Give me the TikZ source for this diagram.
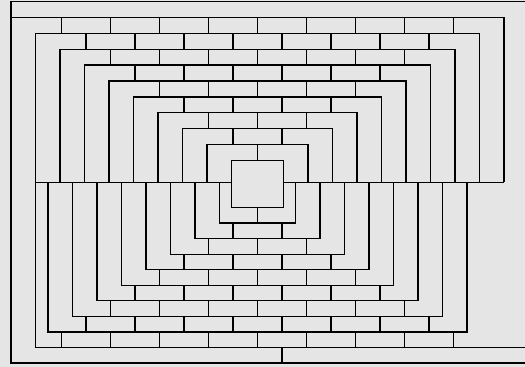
\documentclass[tikz,border=0pt]{standalone}

\begin{document}
\begin{tikzpicture}[
        x=0.02cm,
        y=-0.02cm,
        wall/.style={
            line width=0.7pt,
            line join=miter
        },
        joint/.style={
            line width=0.7pt
        },
        backdrop/.style={
            fill=black!10,
            draw=none
        }
    ]

    % Canvas
    \path[backdrop] (0,0) rectangle (525,367);
    \useasboundingbox (0,0) rectangle (525,367);

    % Outer frame, open towards the right
    \draw[wall] (525,1.5) -- (11,1.5) -- (11,363) -- (525,363);

    % Outermost rings
    \draw[wall] (11,17.4) -- (504,17.4) -- (504,182.5);
    \draw[wall] (525,347.45) -- (35.5,347.45) -- (35.5,33.3) -- (479.5,33.3) -- (479.5,182.5);

    % Upper arches
    \foreach \k in {1,...,7} {
        \pgfmathsetmacro\archl{231.5-24.5*\k}
        \pgfmathsetmacro\archr{283.5+24.5*\k}
        \pgfmathsetmacro\archt{160.5-15.9*\k}
        \draw[wall] (\archl,182.5) -- (\archl,\archt) -- (\archr,\archt) -- (\archr,182.5);
    }

    % Lower cups
    \foreach \k in {1,...,8} {
        \pgfmathsetmacro\cupl{244-24.5*\k}
        \pgfmathsetmacro\cupr{271+24.5*\k}
        \pgfmathsetmacro\cupb{207.5+15.55*\k}
        \draw[wall] (\cupl,182.5) -- (\cupl,\cupb) -- (\cupr,\cupb) -- (\cupr,182.5);
    }

    % Centre square and middle line
    \draw[wall] (231.5,160.5) rectangle (283.5,207.5);
    \draw[wall] (35.5,182.5) -- (231.5,182.5);
    \draw[wall] (283.5,182.5) -- (504,182.5);

    % Brick joints, upper bands
    \foreach \j in {1,...,9} {
        \pgfmathtruncatemacro\n{\j-1}
        \pgfmathsetmacro\ylo{160.5-15.9*\j}
        \pgfmathsetmacro\yhi{\ylo+15.9}
        \foreach \i in {0,...,\n} {
            \pgfmathsetmacro\xj{257.5+24.5*(2*\i-\n)}
            \draw[joint] (\xj,\ylo) -- (\xj,\yhi);
        }
    }

    % Brick joints, lower bands
    \foreach \j in {1,...,9} {
        \pgfmathtruncatemacro\n{\j-1}
        \pgfmathsetmacro\ylo{207.5+15.55*(\j-1)}
        \pgfmathsetmacro\yhi{\ylo+15.55}
        \foreach \i in {0,...,\n} {
            \pgfmathsetmacro\xj{257.5+24.5*(2*\i-\n)}
            \draw[joint] (\xj,\ylo) -- (\xj,\yhi);
        }
    }
    \draw[joint] (282,347.45) -- (282,363);

\end{tikzpicture}
\end{document}
